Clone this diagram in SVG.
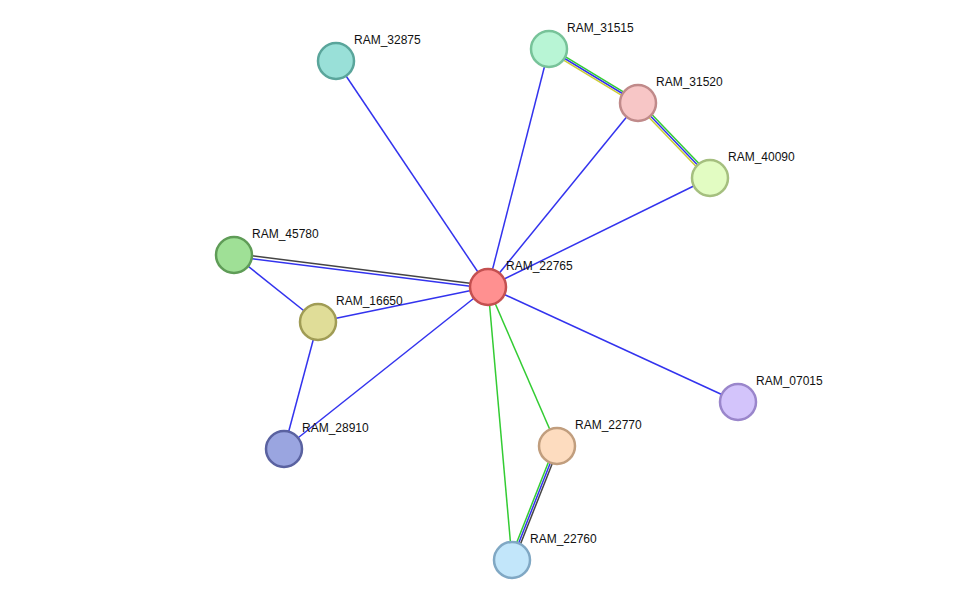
<svg xmlns="http://www.w3.org/2000/svg" width="976" height="606" viewBox="0 0 976 606">
<style>
.e{stroke-width:1.5;fill:none}
.b{stroke:#3333ee}.g{stroke:#33cc33}.y{stroke:#cccc33}.k{stroke:#444444}
.n circle{stroke-width:2.5}
text{font-family:"Liberation Sans",Arial,sans-serif;font-size:12px;fill:#111}
</style>
<rect width="976" height="606" fill="#fff"/>
<g id="edges">
<line class="e b" x1="336" y1="61" x2="488" y2="287"/>
<line class="e b" x1="549" y1="49" x2="488" y2="287"/>
<line class="e b" x1="638" y1="103" x2="488" y2="287"/>
<line class="e b" x1="710" y1="178" x2="488" y2="287"/>
<line class="e b" x1="318" y1="322" x2="488" y2="287"/>
<line class="e b" x1="284" y1="449" x2="488" y2="287"/>
<line class="e b" x1="738" y1="402" x2="488" y2="287"/>
<line class="e b" x1="234" y1="255" x2="318" y2="322"/>
<line class="e b" x1="318" y1="322" x2="284" y2="449"/>
<line class="e g" x1="488" y1="287" x2="557" y2="446"/>
<line class="e g" x1="488" y1="287" x2="512" y2="560"/>
<line class="e k" x1="233.8" y1="253.5" x2="487.8" y2="285.5"/>
<line class="e b" x1="234.2" y1="256.5" x2="488.2" y2="288.5"/>
<line class="e g" x1="550" y1="47.3" x2="639" y2="101.3"/>
<line class="e b" x1="549" y1="49" x2="638" y2="103"/>
<line class="e y" x1="548" y1="50.7" x2="637" y2="104.7"/>
<line class="e g" x1="639.4" y1="101.6" x2="711.4" y2="176.6"/>
<line class="e b" x1="638" y1="103" x2="710" y2="178"/>
<line class="e y" x1="636.6" y1="104.4" x2="708.6" y2="179.4"/>
<line class="e g" x1="555.1" y1="445.3" x2="510.1" y2="559.3"/>
<line class="e b" x1="557" y1="446" x2="512" y2="560"/>
<line class="e k" x1="558.9" y1="446.7" x2="513.9" y2="560.7"/>
</g>
<g id="RAM_32875" class="n"><circle cx="336" cy="61" r="18" fill="#99e0d8" stroke="#5aa59b"/><text x="354" y="44">RAM_32875</text></g>
<g id="RAM_31515" class="n"><circle cx="549" cy="49" r="18" fill="#b8f5d5" stroke="#77c399"/><text x="567" y="32">RAM_31515</text></g>
<g id="RAM_31520" class="n"><circle cx="638" cy="103" r="18" fill="#f7c6c6" stroke="#c08a8a"/><text x="656" y="86">RAM_31520</text></g>
<g id="RAM_40090" class="n"><circle cx="710" cy="178" r="18" fill="#e2fcc2" stroke="#a5bf7f"/><text x="728" y="161">RAM_40090</text></g>
<g id="RAM_45780" class="n"><circle cx="234" cy="255" r="18" fill="#9fe096" stroke="#5f9c57"/><text x="252" y="238">RAM_45780</text></g>
<g id="RAM_22765" class="n"><circle cx="488" cy="287" r="18" fill="#ff9090" stroke="#c45050"/><text x="506" y="270">RAM_22765</text></g>
<g id="RAM_16650" class="n"><circle cx="318" cy="322" r="18" fill="#e0dd98" stroke="#a09c55"/><text x="336" y="305">RAM_16650</text></g>
<g id="RAM_07015" class="n"><circle cx="738" cy="402" r="18" fill="#d3c4fb" stroke="#9a86cb"/><text x="756" y="385">RAM_07015</text></g>
<g id="RAM_28910" class="n"><circle cx="284" cy="449" r="18" fill="#9aa5e0" stroke="#5a62a0"/><text x="302" y="432">RAM_28910</text></g>
<g id="RAM_22770" class="n"><circle cx="557" cy="446" r="18" fill="#fddcbf" stroke="#c19e7e"/><text x="575" y="429">RAM_22770</text></g>
<g id="RAM_22760" class="n"><circle cx="512" cy="560" r="18" fill="#c2e6fa" stroke="#80a8c4"/><text x="530" y="543">RAM_22760</text></g>
</svg>
